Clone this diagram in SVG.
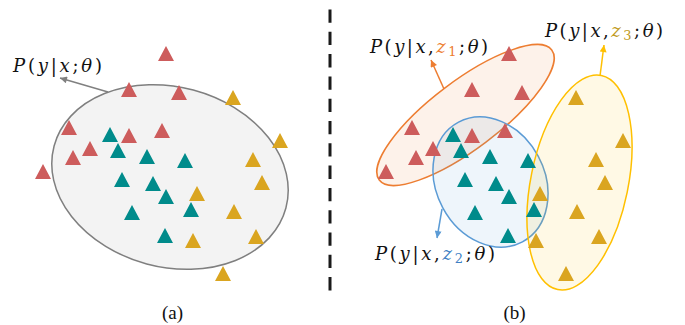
<svg xmlns="http://www.w3.org/2000/svg" width="685" height="325" viewBox="0 0 685 325">
<style>
.r{fill:#CD5C5C}.t{fill:#008B8B}.g{fill:#DAA520}
.m{font-family:"DejaVu Serif","Liberation Serif",serif;font-size:18px;fill:#111}
.i{font-style:italic}
.cap{font-family:"Liberation Serif","Times New Roman",serif;font-size:19px;fill:#111}
.conn{fill:none;stroke-width:1.5}
.cl{stroke-width:1.5}
</style>
<defs>
<path id="tri" d="M0,0 L8,15 L-8,15 Z"/>
<marker id="ah-gray" viewBox="0 0 10 10" refX="10" refY="5" markerWidth="9" markerHeight="7" markerUnits="userSpaceOnUse" orient="auto"><path d="M0,0 L10,5 L0,10 Z" fill="#808080"/></marker>
<marker id="ah-orange" viewBox="0 0 10 10" refX="10" refY="5" markerWidth="9" markerHeight="7" markerUnits="userSpaceOnUse" orient="auto"><path d="M0,0 L10,5 L0,10 Z" fill="#ED7D31"/></marker>
<marker id="ah-blue" viewBox="0 0 10 10" refX="10" refY="5" markerWidth="9" markerHeight="7" markerUnits="userSpaceOnUse" orient="auto"><path d="M0,0 L10,5 L0,10 Z" fill="#5B9BD5"/></marker>
<marker id="ah-gold" viewBox="0 0 10 10" refX="10" refY="5" markerWidth="9" markerHeight="7" markerUnits="userSpaceOnUse" orient="auto"><path d="M0,0 L10,5 L0,10 Z" fill="#FFC000"/></marker>
</defs>

<!-- divider -->
<line x1="330" y1="9.5" x2="330" y2="295" stroke="#1a1a1a" stroke-width="3" stroke-dasharray="13.3 9"/>

<!-- panel (a) cluster -->
<g id="cluster-a">
<ellipse cx="170" cy="177" rx="120" ry="90" transform="rotate(15 170 177)" fill="#F3F3F3" stroke="#7F7F7F" class="cl"/>
</g>

<!-- panel (b) clusters -->
<g id="cluster-z1">
<ellipse cx="465.5" cy="115" rx="108" ry="34" transform="rotate(-37 465.5 115)" fill="#ED7D31" fill-opacity="0.1" stroke="#ED7D31" class="cl"/>
</g>
<g id="cluster-z2">
<ellipse cx="490.5" cy="182" rx="67.8" ry="54.2" transform="rotate(61.9 490.5 182)" fill="#5B9BD5" fill-opacity="0.1" stroke="#5B9BD5" class="cl"/>
</g>
<g id="cluster-z3">
<ellipse cx="579.5" cy="182.5" rx="48.7" ry="109.3" transform="rotate(11.5 579.5 182.5)" fill="#FFC000" fill-opacity="0.1" stroke="#FFC000" class="cl"/>
</g>

<!-- points -->
<g id="points-a">
<use href="#tri" x="166" y="46" class="r"/>
<use href="#tri" x="129" y="82" class="r"/>
<use href="#tri" x="179" y="85" class="r"/>
<use href="#tri" x="69" y="120" class="r"/>
<use href="#tri" x="129" y="128" class="r"/>
<use href="#tri" x="162" y="123" class="r"/>
<use href="#tri" x="90" y="141" class="r"/>
<use href="#tri" x="73" y="150" class="r"/>
<use href="#tri" x="43" y="164" class="r"/>
<use href="#tri" x="110" y="127" class="t"/>
<use href="#tri" x="118" y="143" class="t"/>
<use href="#tri" x="147" y="149" class="t"/>
<use href="#tri" x="185" y="153" class="t"/>
<use href="#tri" x="122" y="172" class="t"/>
<use href="#tri" x="153" y="176" class="t"/>
<use href="#tri" x="166" y="189" class="t"/>
<use href="#tri" x="191" y="202" class="t"/>
<use href="#tri" x="132" y="205" class="t"/>
<use href="#tri" x="165" y="228" class="t"/>
<use href="#tri" x="233" y="90" class="g"/>
<use href="#tri" x="280" y="133" class="g"/>
<use href="#tri" x="253" y="152" class="g"/>
<use href="#tri" x="262" y="175" class="g"/>
<use href="#tri" x="197" y="186" class="g"/>
<use href="#tri" x="234" y="204" class="g"/>
<use href="#tri" x="256" y="229" class="g"/>
<use href="#tri" x="193" y="233" class="g"/>
<use href="#tri" x="223" y="266" class="g"/>
</g>
<g id="points-b">
<use href="#points-a" transform="translate(343,0)"/>
</g>

<!-- connectors -->
<g id="connectors" class="conn">
<path d="M108,92 L60,78" stroke="#808080" marker-end="url(#ah-gray)"/>
<path d="M444,89 L431,60" stroke="#ED7D31" marker-end="url(#ah-orange)"/>
<path d="M442,209 L437,238" stroke="#5B9BD5" marker-end="url(#ah-blue)"/>
<path d="M600,76 L604,45" stroke="#FFC000" marker-end="url(#ah-gold)"/>
</g>

<!-- labels -->
<g id="label-a">
<text x="13" y="72" class="m" textLength="89" lengthAdjust="spacing"><tspan class="i">P</tspan>(<tspan class="i">y</tspan>|<tspan class="i">x</tspan>;<tspan class="i">θ</tspan>)</text>
</g>
<g id="label-z1">
<text x="370" y="53" class="m" textLength="118" lengthAdjust="spacing"><tspan class="i">P</tspan>(<tspan class="i">y</tspan>|<tspan class="i">x</tspan>,<tspan class="i" fill="#ED7D31">z</tspan><tspan font-size="13" dy="3" fill="#ED7D31">1</tspan><tspan dy="-3">;</tspan><tspan class="i">θ</tspan>)</text>
</g>
<g id="label-z2">
<text x="375" y="260" class="m" textLength="120" lengthAdjust="spacing"><tspan class="i">P</tspan>(<tspan class="i">y</tspan>|<tspan class="i">x</tspan>,<tspan class="i" fill="#3F7FC4">z</tspan><tspan font-size="13" dy="3" fill="#3F7FC4">2</tspan><tspan dy="-3">;</tspan><tspan class="i">θ</tspan>)</text>
</g>
<g id="label-z3">
<text x="545" y="37" class="m" textLength="118" lengthAdjust="spacing"><tspan class="i">P</tspan>(<tspan class="i">y</tspan>|<tspan class="i">x</tspan>,<tspan class="i" fill="#C09A1C">z</tspan><tspan font-size="13" dy="3" fill="#C09A1C">3</tspan><tspan dy="-3">;</tspan><tspan class="i">θ</tspan>)</text>
</g>
<g id="caption-a"><text x="172.5" y="319" class="cap" text-anchor="middle">(a)</text></g>
<g id="caption-b"><text x="514.5" y="319" class="cap" text-anchor="middle">(b)</text></g>
</svg>
